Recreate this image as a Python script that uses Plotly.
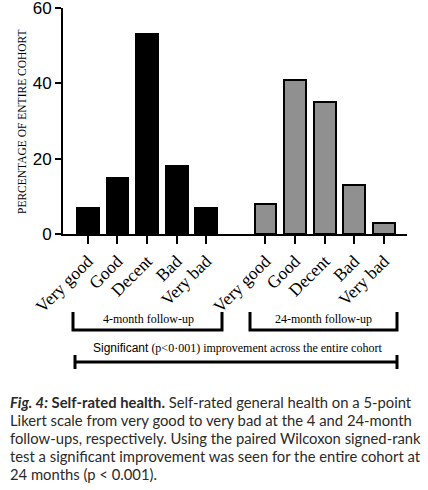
import plotly.graph_objects as go

# ── Data ──────────────────────────────────────────────────
categories = ["Very good", "Good", "Decent", "Bad", "Very bad"]
month4_pct = [7, 15, 53, 18, 7]
month24_pct = [8, 41, 35, 13, 3]
y_ticks = [0, 20, 40, 60]

caption_lines = [
    "<b><i>Fig. 4:</i> Self-rated health.</b> Self-rated general health on a 5-point",
    "Likert scale from very good to very bad at the 4 and 24-month",
    "follow-ups, respectively. Using the paired Wilcoxon signed-rank",
    "test a significant improvement was seen for the entire cohort at",
    "24 months (p < 0.001).",
]

W, H = 428, 490
L, R, T, B = 63, 21, 8, 256
PW, PH = W - L - R, H - T - B

SERIF = "Liberation Serif"
SANS = "Liberation Sans"


def px(x):
    return (x - L) / PW


def py(y):
    return (H - B - y) / PH


def note(text, x, y, size, family=SERIF, xanchor="center", **kw):
    fig.add_annotation(text=text, x=px(x), y=py(y), xref="paper", yref="paper",
                       xanchor=xanchor, yanchor="middle", showarrow=False,
                       font=dict(family=family, size=size, color=kw.pop("color", "black")), **kw)


x4 = list(range(len(categories)))
x24 = [i + len(categories) + 1 for i in range(len(categories))]

fig = go.Figure()
fig.add_trace(go.Bar(x=x4, y=month4_pct, width=0.74,
                     marker=dict(color="black", line=dict(color="black", width=2))))
fig.add_trace(go.Bar(x=x24, y=month24_pct, width=0.74,
                     marker=dict(color="#909090", line=dict(color="black", width=2))))

fig.update_xaxes(
    range=[-0.84, 10.78], tickvals=x4 + x24, ticktext=categories * 2,
    tickangle=-45, ticks="outside", ticklen=8, tickwidth=2, tickcolor="black",
    showline=True, linewidth=2, linecolor="black", showgrid=False, zeroline=False,
    tickfont=dict(family=SERIF, size=17.5, color="black"), automargin=False,
)
fig.update_yaxes(
    range=[0, 60], tickvals=y_ticks, ticks="outside", ticklen=6, tickwidth=2,
    tickcolor="black", showline=True, linewidth=2, linecolor="black",
    showgrid=False, zeroline=False, automargin=False, ticklabeloverflow="allow",
    tickfont=dict(family=SANS, size=17, color="black"),
)
note("PERCENTAGE OF ENTIRE COHORT", 22, 122, 11.5, textangle=-90)

# ── Brackets ──────────────────────────────────────────────
line = dict(color="black", width=3)
for x0, x1 in [(73, 222), (250, 397)]:
    fig.add_shape(type="path", xref="paper", yref="paper", line=line,
                  path=f"M {px(x0)},{py(312)} L {px(x0)},{py(330)} L {px(x1)},{py(330)} L {px(x1)},{py(312)}")
fig.add_shape(type="line", xref="paper", yref="paper", line=line,
              x0=px(75), x1=px(397), y0=py(362), y1=py(362))
for xc in (75, 397):
    fig.add_shape(type="line", xref="paper", yref="paper", line=line,
                  x0=px(xc), x1=px(xc), y0=py(355), y1=py(369))

note("4-month follow-up", 148, 319, 12)
note("24-month follow-up", 323, 319, 12)
note(f"<span style='font-family:{SANS}'>Significant</span> (p&lt;0·001) improvement across the entire cohort",
     237, 348, 12)

# ── Caption ───────────────────────────────────────────────
for i, txt in enumerate(caption_lines):
    note(txt, 8, 402 + 18 * i, 14.8, family="Lato", xanchor="left", color="#2a2a2a")

fig.update_layout(
    width=W, height=H, margin=dict(l=L, r=R, t=T, b=B),
    plot_bgcolor="white", paper_bgcolor="white", showlegend=False, bargap=0,
)
fig.write_html("out.html", config={"displayModeBar": False},
               post_script="document.body.style.margin='0';")
